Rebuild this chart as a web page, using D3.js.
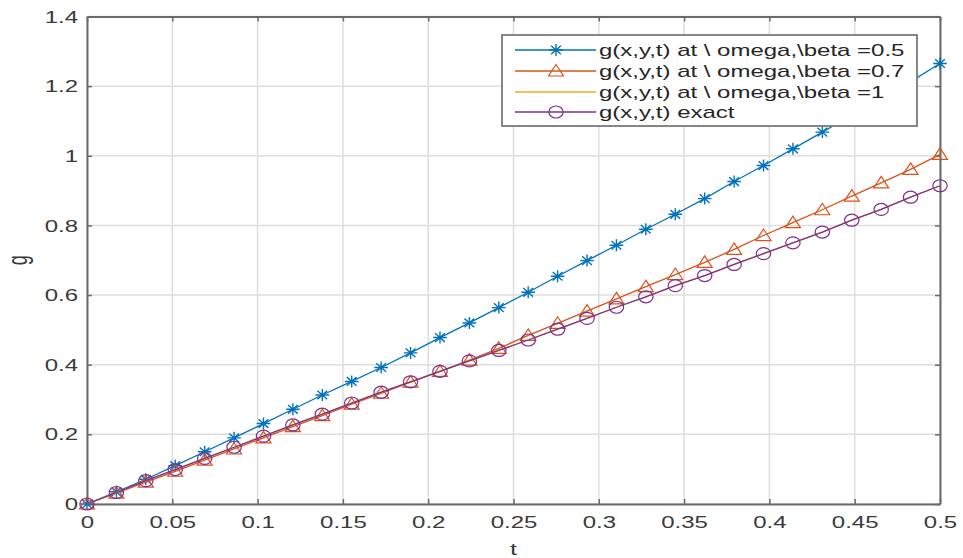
<!DOCTYPE html>
<html><head><meta charset="utf-8">
<script src="https://cdn.jsdelivr.net/npm/d3@7"></script>
<style>
body{margin:0;background:#fff}
svg{display:block}
text{font-family:"Liberation Sans",Arial,sans-serif;fill:#333}
</style>
</head><body>
<svg id="c" width="963" height="558"></svg>
<script>
// ---- data ----
const tValues = [0, 0.01724, 0.03448, 0.05172, 0.06897, 0.08621, 0.10345, 0.12069, 0.13793, 0.15517,
  0.17241, 0.18966, 0.20690, 0.22414, 0.24138, 0.25862, 0.27586, 0.29310, 0.31034, 0.32759,
  0.34483, 0.36207, 0.37931, 0.39655, 0.41379, 0.43103, 0.44828, 0.46552, 0.48276, 0.5];
const gBeta05 = [0, 0.035, 0.071, 0.110, 0.150, 0.190, 0.231, 0.272, 0.313, 0.352,
  0.392, 0.434, 0.478, 0.520, 0.564, 0.608, 0.654, 0.699, 0.743, 0.789,
  0.832, 0.877, 0.926, 0.972, 1.020, 1.068, 1.117, 1.165, 1.213, 1.265];
const gBeta07 = [0, 0.031, 0.063, 0.094, 0.126, 0.158, 0.190, 0.222, 0.254, 0.287,
  0.318, 0.350, 0.381, 0.413, 0.447, 0.484, 0.519, 0.554, 0.589, 0.624,
  0.659, 0.694, 0.731, 0.771, 0.808, 0.845, 0.884, 0.922, 0.961, 1.004];
const gBeta1 = [0, 0.033, 0.067, 0.099, 0.131, 0.163, 0.195, 0.227, 0.258, 0.290,
  0.321, 0.351, 0.381, 0.411, 0.441, 0.471, 0.502, 0.533, 0.565, 0.595,
  0.627, 0.656, 0.688, 0.719, 0.750, 0.781, 0.815, 0.846, 0.881, 0.914];
const gExact = [0, 0.033, 0.067, 0.099, 0.131, 0.163, 0.195, 0.227, 0.258, 0.290,
  0.321, 0.351, 0.381, 0.411, 0.441, 0.471, 0.502, 0.533, 0.565, 0.595,
  0.627, 0.656, 0.688, 0.719, 0.750, 0.781, 0.815, 0.846, 0.881, 0.914];
const seriesNames = ["g(x,y,t) at \\ omega,\\beta =0.5", "g(x,y,t) at \\ omega,\\beta =0.7",
  "g(x,y,t) at \\ omega,\\beta =1", "g(x,y,t) exact"];
const xTicks = [0, 0.05, 0.1, 0.15, 0.2, 0.25, 0.3, 0.35, 0.4, 0.45, 0.5];
const xTickLabels = ["0", "0.05", "0.1", "0.15", "0.2", "0.25", "0.3", "0.35", "0.4", "0.45", "0.5"];
const yTicks = [0, 0.2, 0.4, 0.6, 0.8, 1, 1.2, 1.4];
const yTickLabels = ["0", "0.2", "0.4", "0.6", "0.8", "1", "1.2", "1.4"];

// ---- layout ----
const SX = 1.5; // horizontal stretch of the original figure text
const L = 87, R = 940, T = 16.5, B = 504;
const svg = d3.select("#c");
const x = d3.scaleLinear().domain([0, 0.5]).range([L, R]);
const y = d3.scaleLinear().domain([0, 1.4]).range([B, T]);

const colors = ["#0072BD", "#D95319", "#EDB120", "#7E2F8E"];
const markers = ["star", "tri", null, "circ"];
const data = [gBeta05, gBeta07, gBeta1, gExact];

// grid
const grid = svg.append("g");
grid.selectAll(".gx").data(xTicks).join("line")
  .attr("x1", d => x(d)).attr("x2", d => x(d)).attr("y1", T).attr("y2", B)
  .attr("stroke", "#dedede").attr("stroke-width", 1.5);
grid.selectAll(".gy").data(yTicks).join("line")
  .attr("y1", d => y(d)).attr("y2", d => y(d)).attr("x1", L).attr("x2", R)
  .attr("stroke", "#dedede").attr("stroke-width", 1.5);

// axes
const axisColor = "#6a6a6a";
function styleAxis(g) {
  g.select(".domain").attr("stroke", axisColor).attr("stroke-width", 2);
  g.selectAll(".tick line").attr("stroke", axisColor).attr("stroke-width", 1.5);
}
const xb = svg.append("g").attr("transform", `translate(0,${B})`)
  .call(d3.axisBottom(x).tickValues(xTicks).tickSizeInner(-5).tickSizeOuter(0)
    .tickFormat((d, i) => xTickLabels[i]));
styleAxis(xb);
xb.selectAll(".tick text").attr("y", 0).attr("dy", 0)
  .attr("transform", `translate(0,24) scale(${SX},1)`)
  .style("font-size", "16px").style("fill", "#3a3a3a").attr("font-family", null);

const xt = svg.append("g").attr("transform", `translate(0,${T})`)
  .call(d3.axisTop(x).tickValues(xTicks).tickSizeInner(-5).tickSizeOuter(0).tickFormat(""));
styleAxis(xt);

const yl = svg.append("g").attr("transform", `translate(${L},0)`)
  .call(d3.axisLeft(y).tickValues(yTicks).tickSizeInner(-5).tickSizeOuter(0)
    .tickFormat((d, i) => yTickLabels[i]));
styleAxis(yl);
yl.selectAll(".tick text").attr("x", 0).attr("dy", "0.35em")
  .attr("transform", `translate(-9,0) scale(${SX},1)`)
  .style("font-size", "16px").style("fill", "#3a3a3a").attr("font-family", null);

const yr = svg.append("g").attr("transform", `translate(${R},0)`)
  .call(d3.axisRight(y).tickValues(yTicks).tickSizeInner(-5).tickSizeOuter(0).tickFormat(""));
styleAxis(yr);

// axis labels
svg.append("text").attr("transform", `translate(${(L + R) / 2},555) scale(${SX},1)`)
  .attr("text-anchor", "middle").style("font-size", "17px").style("fill", "#3a3a3a").text("t");
svg.append("text").attr("transform", `translate(27,${(T + B) / 2}) scale(${SX},1) rotate(-90)`)
  .attr("text-anchor", "middle").style("font-size", "18px").style("fill", "#3a3a3a").text("g");

// markers
function drawMarker(g, type, cx, cy, color) {
  if (type === "star") {
    const rx = 6.8, ry = 6, k = 0.72;
    g.append("path").attr("d",
      `M${cx - rx},${cy}L${cx + rx},${cy}M${cx},${cy - ry}L${cx},${cy + ry}` +
      `M${cx - rx * k},${cy - ry * k}L${cx + rx * k},${cy + ry * k}M${cx - rx * k},${cy + ry * k}L${cx + rx * k},${cy - ry * k}`)
      .attr("stroke", color).attr("stroke-width", 1.4).attr("fill", "none");
  } else if (type === "tri") {
    g.append("path").attr("d",
      `M${cx},${cy - 6.5}L${cx - 7.5},${cy + 5}L${cx + 7.5},${cy + 5}Z`)
      .attr("stroke", color).attr("stroke-width", 1.2).attr("fill", "none");
  } else if (type === "circ") {
    g.append("ellipse").attr("cx", cx).attr("cy", cy).attr("rx", 7.2).attr("ry", 6)
      .attr("stroke", color).attr("stroke-width", 1.2).attr("fill", "none");
  }
}

const line = d3.line().x((d, i) => x(tValues[i])).y(d => y(d));
const plot = svg.append("g");
data.forEach((vals, s) => {
  const g = plot.append("g");
  g.append("path").datum(vals).attr("d", line)
    .attr("fill", "none").attr("stroke", colors[s]).attr("stroke-width", 1.3);
  if (markers[s]) vals.forEach((v, i) => drawMarker(g, markers[s], x(tValues[i]), y(v), colors[s]));
});

// legend
const lg = svg.append("g");
const lx0 = 502, ly0 = 35, lw = 415, lh = 91;
lg.append("rect").attr("x", lx0).attr("y", ly0).attr("width", lw).attr("height", lh)
  .attr("fill", "#fff").attr("stroke", "#7a7a7a").attr("stroke-width", 1.8);
const rowY = [50, 71, 92, 112];
seriesNames.forEach((name, s) => {
  const yy = rowY[s];
  lg.append("line").attr("x1", 515).attr("x2", 596).attr("y1", yy).attr("y2", yy)
    .attr("stroke", colors[s]).attr("stroke-width", 1.3);
  if (markers[s]) drawMarker(lg, markers[s], 556, yy, colors[s]);
  lg.append("text").attr("transform", `translate(599,${yy + 5.5}) scale(${SX},1)`)
    .style("font-size", "16px").style("fill", "#262626").text(name);
});
</script>
</body></html>
